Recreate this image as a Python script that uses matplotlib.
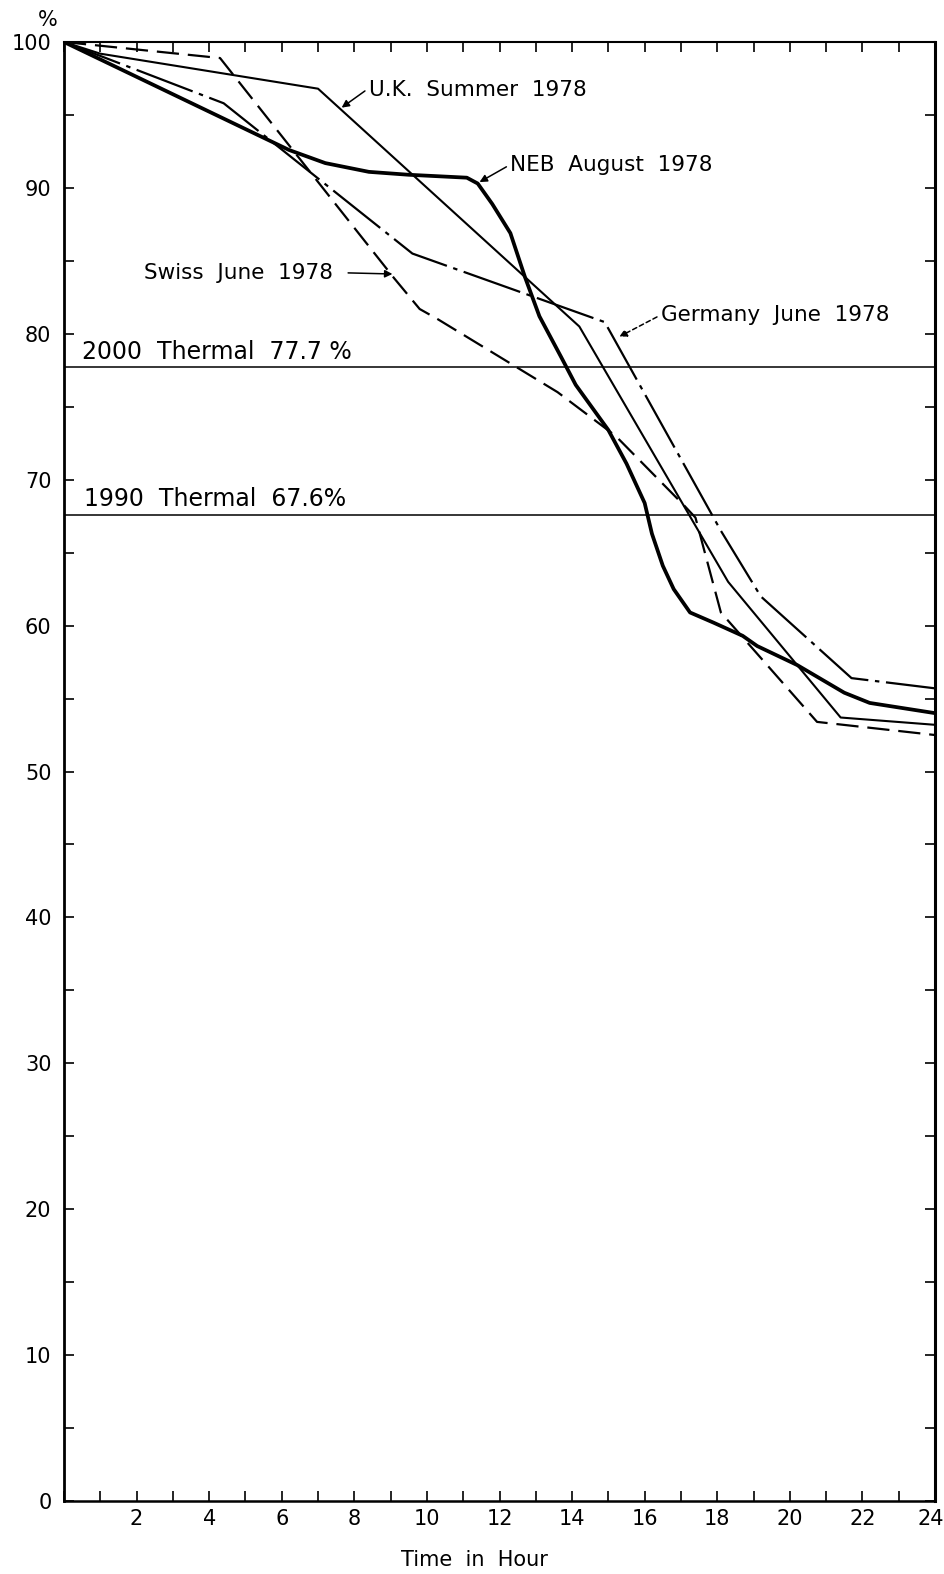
import numpy as np
import matplotlib
matplotlib.use("Agg")
import matplotlib.pyplot as plt
import matplotlib.transforms as mtransforms
from matplotlib.ticker import MultipleLocator, FixedLocator

plt.rcParams['font.family'] = ['DejaVu Sans']

# daily load curves, % of peak vs hour of day
hours_uk = [0, 1, 7, 14.2, 18.3, 21.4, 24]
load_uk = [100, 99.2, 96.8, 80.5, 63.0, 53.7, 53.2]

hours_neb = [0, 6.2, 7.2, 8.4, 9.5, 11.1, 11.4, 11.8, 12.3, 12.7, 13.1, 13.7,
             14.1, 15.0, 15.5, 16.0, 16.2, 16.5, 16.8, 17.25, 17.9, 18.7, 19.1,
             20.2, 21.5, 22.2, 24]
load_neb = [100, 92.6, 91.7, 91.1, 90.9, 90.7, 90.3, 88.9, 86.9, 83.9, 81.2, 78.4,
            76.5, 73.4, 71.1, 68.4, 66.3, 64.1, 62.5, 60.9, 60.2, 59.3, 58.6,
            57.3, 55.4, 54.7, 54.0]

hours_germany = [0, 4.4, 9.6, 14.9, 18.1, 19.2, 21.7, 24]
load_germany = [100, 95.8, 85.5, 80.8, 66.5, 62.0, 56.4, 55.7]

hours_swiss = [0, 4.3, 9.1, 9.4, 9.8, 10.3, 13.6, 15.2, 17.1, 17.4, 18.1, 20.75, 24]
load_swiss = [100, 98.9, 83.8, 82.9, 81.7, 81.0, 76.0, 73.0, 68.2, 67.4, 60.9, 53.4, 52.5]

thermal_2000 = 77.7
thermal_1990 = 67.6

fig = plt.figure(figsize=(9.44, 15.74), dpi=100)
ax = fig.add_axes([64/944, 73/1574, 871/944, 1459/1574])

ax.plot(hours_uk, load_uk, color='k', lw=1.5)
ax.plot(hours_neb, load_neb, color='k', lw=2.7, solid_joinstyle='round')
ax.plot(hours_germany, load_germany, color='k', lw=1.6,
        dashes=(27, 3, 2, 3))
ax.plot(hours_swiss, load_swiss, color='k', lw=1.6, dashes=(10, 4))

ax.axhline(thermal_2000, color='k', lw=1.1)
ax.axhline(thermal_1990, color='k', lw=1.1)
ax.text(0.5, thermal_2000 + 0.25, "2000  Thermal  77.7 %", fontsize=17,
        ha='left', va='bottom')
ax.text(0.55, thermal_1990 + 0.25, "1990  Thermal  67.6%", fontsize=17,
        ha='left', va='bottom')

arrow = dict(arrowstyle='-|>', color='k', lw=1.1, mutation_scale=11,
             shrinkA=1, shrinkB=0)
ax.annotate("U.K.  Summer  1978", xy=(7.65, 95.5), xytext=(8.4, 96.7),
            fontsize=15.5, ha='left', va='center',
            arrowprops=dict(arrow, relpos=(0, 0.6)))
ax.annotate("NEB  August  1978", xy=(11.45, 90.4), xytext=(12.3, 91.6),
            fontsize=15.5, ha='left', va='center',
            arrowprops=dict(arrow, relpos=(0, 0.5)))
ax.annotate("Germany  June  1978", xy=(15.3, 79.8), xytext=(16.45, 81.3),
            fontsize=15.5, ha='left', va='center',
            arrowprops=dict(arrow, relpos=(0, 0.5), linestyle=(0, (3, 2))))
ax.annotate("Swiss  June  1978", xy=(9.05, 84.1), xytext=(2.2, 84.2),
            fontsize=15.5, ha='left', va='center',
            arrowprops=dict(arrow, relpos=(1, 0.5), shrinkA=9))

ax.set_xlim(0, 24)
ax.set_ylim(0, 100)

ax.xaxis.set_major_locator(FixedLocator(np.arange(2, 25, 2)))
ax.xaxis.set_minor_locator(MultipleLocator(1))
ax.yaxis.set_major_locator(MultipleLocator(10))
ax.yaxis.set_minor_locator(MultipleLocator(5))
ax.tick_params(which='both', direction='in', top=True, right=True,
               length=7, width=1.2, colors='k')
ax.tick_params(axis='x', which='major', labelsize=15, pad=6)
ax.tick_params(axis='y', which='major', labelsize=15, pad=9)

# keep the "24" inside the canvas
fig.canvas.draw()
last = ax.get_xticklabels()[-1]
last.set_horizontalalignment('right')
last.set_transform(last.get_transform() +
                   mtransforms.ScaledTranslation(9/100, 0, fig.dpi_scale_trans))

ax.spines['left'].set_linewidth(2.0)
ax.spines['bottom'].set_linewidth(1.8)
ax.spines['right'].set_linewidth(2.2)
ax.spines['top'].set_linewidth(1.5)

fig.text(48/944, 1 - 20/1574, "%", fontsize=15, ha='center', va='center')
fig.text(474/944, 1 - 1560/1574, "Time  in  Hour", fontsize=15,
         ha='center', va='center')

fig.savefig("out.png", dpi=100, facecolor='white')
